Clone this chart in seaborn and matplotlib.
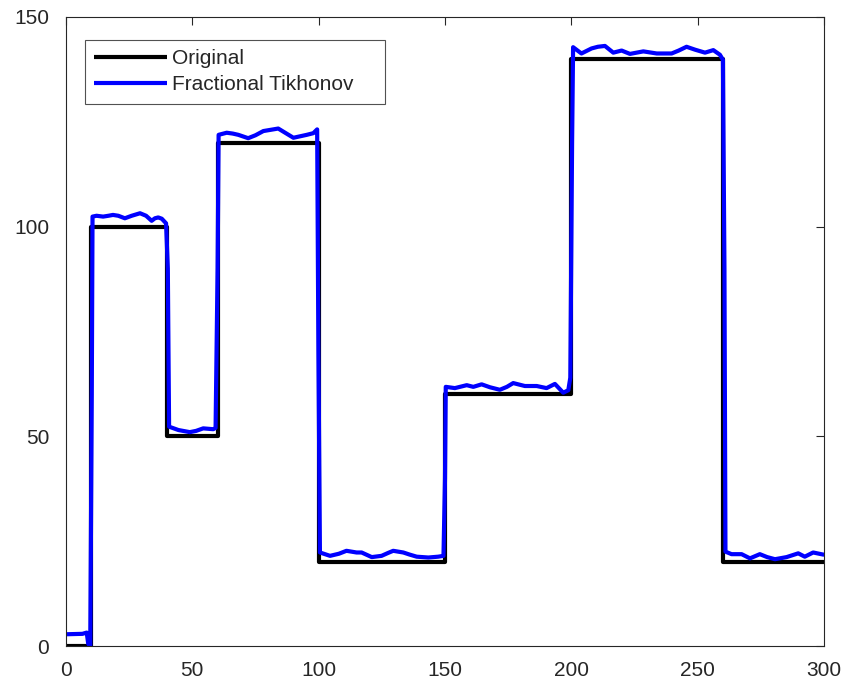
import numpy as np
import pandas as pd
import matplotlib
matplotlib.use("Agg")
import matplotlib.pyplot as plt
import seaborn as sns

# Piecewise-constant test signal
orig_x = [0, 10, 10, 40, 40, 60, 60, 100, 100, 150, 150, 200, 200, 260, 260, 300]
orig_y = [0, 0, 100, 100, 50, 50, 120, 120, 20, 20, 60, 60, 140, 140, 20, 20]

# Fractional Tikhonov reconstruction
rec_x = [0, 6.5, 8.2, 8.8, 9.6, 10.2, 10.5, 12.1, 14.7, 16.8, 18.6, 20.7, 23.3, 26.0, 29.3,
         31.7, 33.9, 35.2, 36.5, 37.9, 39.6,
         40.3, 40.8, 44.5, 49.0, 51.5, 54.3, 58.3, 59.2, 60.0, 60.4, 63.6, 66.0, 68.2, 72.1,
         75.0, 78.1, 84.0, 87.0, 90.0, 95.3, 97.9, 99.4, 99.9, 100.5, 104.5, 108.0, 111.0,
         115.0, 117.0, 121.0, 124.9, 127.5, 129.5, 133.5, 136.0, 138.8, 143.4, 147.3, 149.4,
         150.0, 150.3, 153.9, 158.6, 161.2, 164.5, 167.8, 171.7, 174.5, 177.0, 181.6, 186.3,
         190.2, 193.5, 196.8, 198.8, 199.6, 200.3, 200.7, 204.0, 208.0, 210.5, 213.3, 216.6,
         219.9, 223.2, 228.5, 233.8, 239.7, 242.5, 245.6, 249.0, 252.9, 256.2, 258.8,
         260.0, 260.6, 261.0, 263.4, 267.4, 270.7, 274.6, 277.5, 280.6, 285.2, 289.8, 292.4,
         295.7, 299.7, 300]
rec_y = [2.8, 2.9, 3.2, 0.5, 0.0, 60.0, 102.4, 102.6, 102.4, 102.6, 102.8, 102.6, 102.0,
         102.6, 103.2, 102.6, 101.4, 102.0, 102.2, 101.9, 100.8,
         90.0, 52.3, 51.5, 51.0, 51.3, 51.9, 51.7, 52.0, 90.0, 121.9, 122.4, 122.2, 121.9,
         121.1, 121.8, 122.8, 123.4, 122.3, 121.2, 121.9, 122.3, 123.2, 70.0, 22.3, 21.5,
         22.0, 22.7, 22.3, 22.3, 21.2, 21.5, 22.2, 22.7, 22.3, 21.8, 21.3, 21.1, 21.3, 21.5,
         40.0, 61.8, 61.5, 62.2, 61.8, 62.4, 61.7, 61.1, 61.8, 62.7, 62.0, 62.0, 61.5, 62.5,
         60.4, 61.0, 64.0, 120.0, 142.8, 141.3, 142.5, 142.9, 143.1, 141.5, 142.0, 141.2,
         141.8, 141.3, 141.3, 142.0, 142.9, 142.2, 141.5, 142.1, 141.0, 139.8,
         90.0, 22.5, 21.9, 21.9, 20.9, 21.9, 21.2, 20.7, 21.2, 22.1, 21.3, 22.3, 21.8, 21.8]

labels = ["Original", "Fractional Tikhonov"]

df = pd.concat([
    pd.DataFrame({"x": orig_x, "y": orig_y, "series": labels[0]}),
    pd.DataFrame({"x": rec_x, "y": rec_y, "series": labels[1]}),
], ignore_index=True)

sns.set_style("white")
plt.rcParams["font.family"] = ["Liberation Sans", "DejaVu Sans"]

fig = plt.figure(figsize=(8.43, 6.86), dpi=100)
ax = fig.add_axes([66 / 843, 40 / 686, (824 - 66) / 843, (646 - 17) / 686])

sns.lineplot(data=df, x="x", y="y", hue="series",
             palette={labels[0]: "#000000", labels[1]: "#0000ff"},
             sort=False, estimator=None, linewidth=3.0, ax=ax,
             solid_joinstyle="round", solid_capstyle="butt")

ax.set_xlim(0, 300)
ax.set_ylim(0, 150)
ax.set_xticks(range(0, 301, 50))
ax.set_yticks([0, 50, 100, 150])
ax.set_xlabel("")
ax.set_ylabel("")
ax.tick_params(direction="in", length=6, width=0.8, top=True, right=True,
               labelsize=15, colors="#262626")
ax.tick_params(axis="x", pad=10.5)
ax.tick_params(axis="y", pad=12)
for s in ax.spines.values():
    s.set_visible(True)
    s.set_color("#262626")
    s.set_linewidth(0.8)

leg = ax.legend(loc="upper left", bbox_to_anchor=(0.025, 0.964, 0.396, 0.0),
                mode="expand", fontsize=15,
                frameon=True, fancybox=False, handlelength=3.5, handletextpad=0.25,
                borderpad=0.45, labelspacing=0.35, borderaxespad=0)
leg.get_frame().set_edgecolor("#262626")
leg.get_frame().set_linewidth(0.8)
for line in leg.get_lines():
    line.set_linewidth(3.0)

fig.savefig("out.png", dpi=100)
